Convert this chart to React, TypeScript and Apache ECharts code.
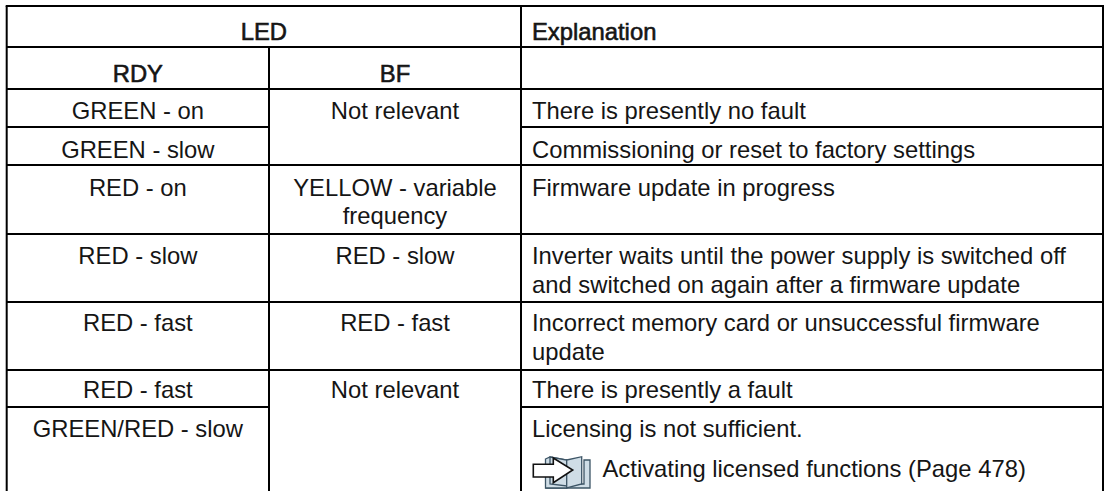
import React, { useEffect, useRef } from "react";
import * as echarts from "echarts";

const headerLed = "LED";
const headerExplanation = "Explanation";
const subHeaders = ["RDY", "BF"];
const rdyStates = ["GREEN - on", "GREEN - slow", "RED - on", "RED - slow", "RED - fast", "RED - fast", "GREEN/RED - slow"];
const bfStates = ["Not relevant", "YELLOW - variable", "frequency", "RED - slow", "RED - fast", "Not relevant"];
const explanations = [
  "There is presently no fault",
  "Commissioning or reset to factory settings",
  "Firmware update in progress",
  "Inverter waits until the power supply is switched off",
  "and switched on again after a firmware update",
  "Incorrect memory card or unsuccessful firmware",
  "update",
  "There is presently a fault",
  "Licensing is not sufficient.",
  "Activating licensed functions (Page 478)",
];

const FONT = '"Liberation Sans", Arial, sans-serif';
const FS = 23.8;
const X = [6.7, 269, 521, 1103];
const HY = [6, 47, 89, 127, 165, 234, 302, 370, 407];
const BOTTOM = 491;
const rdyY = [110.5, 149, 187.5, 255.5, 322.5, 389.5, 428.5];
const bfY = [110.5, 187.5, 215.5, 255.5, 322.5, 389.5];
const expY = [110.5, 149, 187.5, 255.5, 284.5, 322.5, 351.5, 389.5, 428.5, 468.5];
const EX = 532;

function seg(x1: number, y1: number, x2: number, y2: number) {
  return { type: "line", shape: { x1, y1, x2, y2 }, style: { stroke: "#000", lineWidth: 2 } };
}
function txt(s: string, x: number, y: number, align: string, bold = false) {
  return {
    type: "text", x, y,
    style: {
      text: s, x: 0, y: 0, fill: "#151515", font: `${FS}px ${FONT}`, align, verticalAlign: "middle",
      ...(bold ? { stroke: "#151515", lineWidth: 0.6 } : {}),
    },
  };
}

const BOOK = "#cfdde6";
const EDGE = "#3d5566";
function poly(points: number[][], fill: string, stroke: string, lw = 1.3) {
  return { type: "polygon", shape: { points }, style: { fill, stroke, lineWidth: lw } };
}

export default function App() {
  const ref = useRef<HTMLDivElement>(null);
  useEffect(() => {
    const chart = echarts.init(ref.current!, null, { renderer: "svg" });
    const c1 = (X[0] + X[1]) / 2, c2 = (X[1] + X[2]) / 2;
    const elements: any[] = [
      seg(X[0] - 1, HY[0], X[3] + 1, HY[0]),
      seg(X[0], HY[0], X[0], BOTTOM),
      seg(X[2], HY[0], X[2], BOTTOM),
      seg(X[3], HY[0], X[3], BOTTOM),
      seg(X[1], HY[1], X[1], BOTTOM),
      seg(X[0], HY[1], X[3], HY[1]),
      seg(X[0], HY[2], X[3], HY[2]),
      seg(X[0], HY[3], X[1], HY[3]),
      seg(X[2], HY[3], X[3], HY[3]),
      seg(X[0], HY[4], X[3], HY[4]),
      seg(X[0], HY[5], X[3], HY[5]),
      seg(X[0], HY[6], X[3], HY[6]),
      seg(X[0], HY[7], X[3], HY[7]),
      seg(X[0], HY[8], X[1], HY[8]),
      seg(X[2], HY[8], X[3], HY[8]),
      txt(headerLed, (X[0] + X[2]) / 2, 31.5, "center", true),
      txt(headerExplanation, EX, 31.5, "left", true),
      txt(subHeaders[0], c1, 73.5, "center", true),
      txt(subHeaders[1], c2, 73.5, "center", true),
      ...rdyStates.map((s, i) => txt(s, c1, rdyY[i], "center")),
      ...bfStates.map((s, i) => txt(s, c2, bfY[i], "center")),
      ...explanations.map((s, i) => txt(s, i === 9 ? 602.5 : EX, expY[i], "left")),
      poly([[584, 460], [590, 460], [590, 488], [546, 488], [546, 484], [584, 484]], BOOK, EDGE),
      poly([[545.5, 459], [550, 457], [566.7, 460], [566.7, 488], [545.5, 488]], BOOK, EDGE),
      poly([[550, 457], [566.7, 460], [566.7, 486], [550, 484]], BOOK, EDGE),
      poly([[566.7, 460], [581.7, 456.7], [581.7, 484], [566.7, 488]], BOOK, EDGE),
      poly([[533.3, 464.3], [553.3, 464.3], [553.3, 458], [572.7, 470], [553.3, 482.7], [553.3, 477], [533.3, 477]], "#fff", "#111", 1.6),
    ];
    chart.setOption({ animation: false, graphic: { elements } });
    return () => chart.dispose();
  }, []);
  return <div ref={ref} style={{ position: "fixed", left: 0, top: 0, width: 1104, height: 491, background: "#fff" }} />;
}
